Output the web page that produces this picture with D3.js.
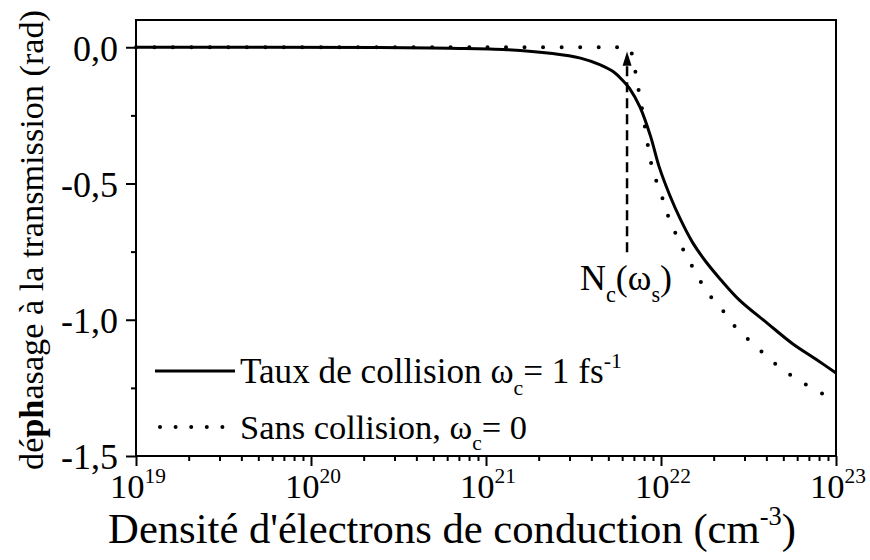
<!DOCTYPE html>
<html>
<head>
<meta charset="utf-8">
<script src="https://cdn.jsdelivr.net/npm/d3@7"></script>
<style>
  body { margin: 0; background: #fff; }
</style>
</head>
<body>
<svg id="chart" width="870" height="560"></svg>
<script>
// log10 of the density (cm^-3) and phase (rad)
var logSolid = [19.0, 20.39, 20.79, 21.12, 21.38, 21.54, 21.65, 21.73, 21.78, 21.82, 21.88, 21.94, 21.99, 22.05, 22.11, 22.18, 22.26, 22.34, 22.45, 22.61, 22.75, 22.89, 23.0];
var phaseSolid = [0, -0.001, -0.004, -0.009, -0.023, -0.040, -0.064, -0.091, -0.121, -0.151, -0.220, -0.326, -0.440, -0.543, -0.630, -0.716, -0.790, -0.852, -0.929, -1.014, -1.087, -1.147, -1.195];

var logDotted = [19.0, 21.75, 21.81, 21.83, 21.85, 21.87, 21.89, 21.92, 21.94, 21.97, 22.01, 22.04, 22.09, 22.14, 22.20, 22.26, 22.35, 22.43, 22.54, 22.64, 22.75, 22.86, 22.97, 23.0];
var phaseDotted = [0, 0, 0, -0.018, -0.077, -0.150, -0.220, -0.340, -0.415, -0.484, -0.557, -0.618, -0.693, -0.759, -0.829, -0.895, -0.964, -1.030, -1.096, -1.155, -1.207, -1.250, -1.287, -1.298];

var xMajor = [19, 20, 21, 22, 23];
var yMajor = [0, -0.5, -1.0, -1.5];
var yMinor = [-0.25, -0.75, -1.25];
var logCritical = 21.806; // N_c(omega_s)

var font = '"Liberation Serif", "Times New Roman", serif';

var svg = d3.select('#chart').attr('font-family', font);
var margin = {left: 136, right: 34, top: 20, bottom: 104};
var width = 870 - margin.left - margin.right;
var height = 560 - margin.top - margin.bottom;

var g = svg.append('g').attr('transform', 'translate(' + margin.left + ',' + margin.top + ')');

var x = d3.scaleLog().domain([1e19, 1e23]).range([0, width]);
var y = d3.scaleLinear().domain([-1.5, 0.1]).range([height, 0]);

var fr = d3.formatLocale({decimal: ',', thousands: ' ', grouping: [3], currency: ['', ''], minus: '-'});
var fmt = fr.format('.1f');

// text made of parts with sub/superscripts, sized so it spans `target` px
function rich(parent, parts, target) {
    var t = parent.append('text');
    function build(fs) {
        t.selectAll('tspan').remove();
        t.attr('font-size', fs);
        var shift = 0;
        parts.forEach(function(p) {
            var s = t.append('tspan');
            var want = p.sub ? 0.33 * fs : (p.sup ? -0.42 * fs : 0);
            s.attr('dy', want - shift);
            shift = want;
            if (p.sub || p.sup) s.attr('font-size', 0.62 * fs);
            if (p.bold) s.attr('font-weight', 'bold');
            s.text(p.t);
        });
    }
    build(30);
    var len = t.node().getComputedTextLength();
    build(30 * target / len);
    return t;
}

// minor ticks on x: 2..9 in each decade
var xMinor = [];
xMajor.slice(0, -1).forEach(function(e) {
    for (var k = 2; k <= 9; k++) xMinor.push(k * Math.pow(10, e));
});

g.append('g')
    .attr('transform', 'translate(0,' + height + ')')
    .call(d3.axisBottom(x).tickValues(xMajor.map(function(e) { return Math.pow(10, e); }))
        .tickSize(10).tickFormat(''));
g.append('g')
    .attr('transform', 'translate(0,' + height + ')')
    .call(d3.axisBottom(x).tickValues(xMinor).tickSize(5).tickFormat(''));

var yAx = g.append('g')
    .call(d3.axisLeft(y).tickValues(yMajor).tickSize(10).tickPadding(8).tickFormat(fmt))
    .attr('font-family', null);
g.append('g')
    .call(d3.axisLeft(y).tickValues(yMinor).tickSize(5).tickFormat(''));

g.selectAll('.domain').remove();
g.selectAll('.tick line').attr('stroke', '#000').attr('stroke-width', 2);

// size y tick labels so "0,0" is about 45px wide
var yText = yAx.selectAll('text').attr('font-size', 30).attr('dy', '0.36em').attr('fill', '#000');
var w00 = yText.filter(function(d) { return d === 0; }).node().getComputedTextLength();
yText.attr('font-size', 30 * 45 / w00);

// frame
g.append('rect')
    .attr('width', width).attr('height', height)
    .attr('fill', 'none').attr('stroke', '#000').attr('stroke-width', 2);

// x tick labels 10^n
xMajor.forEach(function(e) {
    rich(g, [{t: '10'}, {t: String(e), sup: true}], 56)
        .attr('x', x(Math.pow(10, e)) + 2)
        .attr('y', height + 42)
        .attr('text-anchor', 'middle');
});

// curves
var line = d3.line()
    .x(function(d) { return x(Math.pow(10, d[0])); })
    .y(function(d) { return y(d[1]); })
    .curve(d3.curveCatmullRom.alpha(0.5));

g.append('path')
    .datum(d3.zip(logDotted, phaseDotted))
    .attr('d', line)
    .attr('fill', 'none').attr('stroke', '#000')
    .attr('stroke-width', 4).attr('stroke-linecap', 'round')
    .attr('stroke-dasharray', '0,18.5');

g.append('path')
    .datum(d3.zip(logSolid, phaseSolid))
    .attr('d', line)
    .attr('fill', 'none').attr('stroke', '#000')
    .attr('stroke-width', 3);

// N_c arrow
var xc = x(Math.pow(10, logCritical));
g.append('line')
    .attr('x1', xc).attr('x2', xc)
    .attr('y1', y(-0.752)).attr('y2', y(-0.06))
    .attr('stroke', '#000').attr('stroke-width', 2.5)
    .attr('stroke-dasharray', '10,6');
g.append('path')
    .attr('d', 'M' + (xc - 4.5) + ',' + y(-0.068) + 'L' + xc + ',' + y(-0.016) + 'L' + (xc + 4.5) + ',' + y(-0.068) + 'Z')
    .attr('fill', '#000');

rich(g, [{t: 'N'}, {t: 'c', sub: true}, {t: '(ω'}, {t: 's', sub: true}, {t: ')'}], 92)
    .attr('x', xc - 47).attr('y', 270);

// legend
var leg = g.append('g');
leg.append('line')
    .attr('x1', 19).attr('x2', 99).attr('y1', 351).attr('y2', 351)
    .attr('stroke', '#000').attr('stroke-width', 3);
leg.append('line')
    .attr('x1', 24).attr('x2', 102).attr('y1', 407).attr('y2', 407)
    .attr('stroke', '#000').attr('stroke-width', 4)
    .attr('stroke-linecap', 'round').attr('stroke-dasharray', '0,15.6');

rich(leg, [{t: 'Taux de collision ω'}, {t: 'c', sub: true}, {t: '= 1 fs'}, {t: '-1', sup: true}], 382)
    .attr('x', 104).attr('y', 363);
rich(leg, [{t: 'Sans collision, ω'}, {t: 'c', sub: true}, {t: '= 0'}], 287)
    .attr('x', 104).attr('y', 419);

// axis titles
rich(svg, [{t: "Densité d'électrons de conduction (cm"}, {t: '-3', sup: true}, {t: ')'}], 688)
    .attr('x', 452).attr('y', 543)
    .attr('text-anchor', 'middle');

rich(svg, [{t: 'dé'}, {t: 'ph', bold: true}, {t: 'asage à la transmission (rad)'}], 460)
    .attr('transform', 'translate(43,240) rotate(-90)')
    .attr('text-anchor', 'middle');
</script>
</body>
</html>
